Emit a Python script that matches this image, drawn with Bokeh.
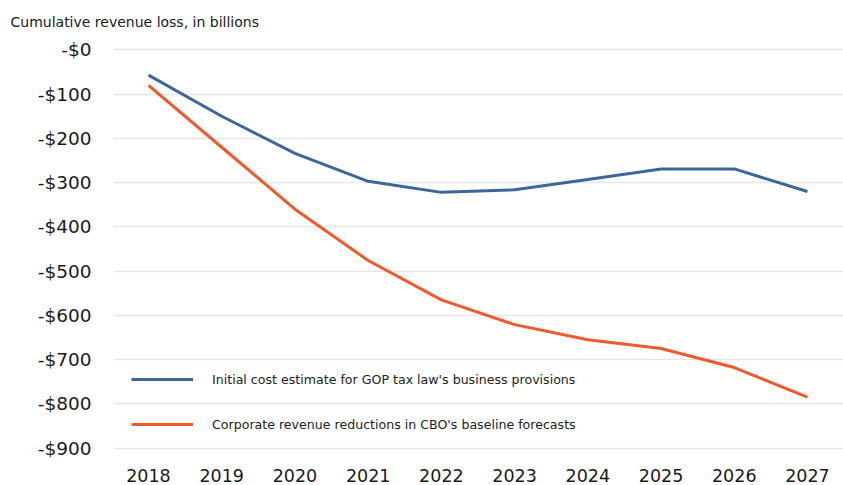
from bokeh.plotting import figure
from bokeh.models import Range1d, FixedTicker, CustomJSTickFormatter, Legend, LegendItem
from bokeh.embed import file_html
from bokeh.resources import INLINE

years = [2018, 2019, 2020, 2021, 2022, 2023, 2024, 2025, 2026, 2027]
initial_estimate = [-57, -150, -234, -297, -322, -316, -293, -269, -269, -320]
cbo_baseline = [-80, -220, -360, -476, -565, -621, -655, -675, -718, -785]
y_ticks = [0, -100, -200, -300, -400, -500, -600, -700, -800, -900]
series_names = ["Initial cost estimate for GOP tax law's business provisions",
                "Corporate revenue reductions in CBO's baseline forecasts"]
title_text = "Cumulative revenue loss, in billions"

BLUE = "#3b679b"
ORANGE = "#ee5a2b"
TEXT = "#1a1a1a"
FONT = "DejaVu Sans"

p = figure(width=843, height=485, output_backend="svg", toolbar_location=None,
           x_range=Range1d(2017.522, 2027.492), y_range=Range1d(-910, 10),
           min_border_left=113, min_border_right=0, min_border_top=44, min_border_bottom=33)

p.title.text = title_text
p.title.align = "left"
p.title.vertical_align = "top"
p.title.offset = -103
p.title.text_font = FONT
p.title.text_font_size = "14px"
p.title.text_font_style = "normal"
p.title.text_color = TEXT
p.title.standoff = 27

p.outline_line_color = None
p.background_fill_color = "white"
p.border_fill_color = "white"

r1 = p.line(years, initial_estimate, line_color=BLUE, line_width=3)
r2 = p.line(years, cbo_baseline, line_color=ORANGE, line_width=3)

# x axis
p.xaxis.ticker = FixedTicker(ticks=years)
p.xaxis.formatter = CustomJSTickFormatter(code="return tick.toFixed(0);")
p.xaxis.axis_line_color = None
p.xaxis.major_tick_line_color = None
p.xaxis.minor_tick_line_color = None
p.xaxis.major_label_standoff = 10
p.xaxis.major_label_text_font = FONT
p.xaxis.major_label_text_font_size = "17.5px"
p.xaxis.major_label_text_color = TEXT
p.xgrid.grid_line_color = None

# y axis
p.yaxis.ticker = FixedTicker(ticks=y_ticks)
p.yaxis.formatter = CustomJSTickFormatter(code='return "-$" + Math.abs(tick).toFixed(0);')
p.yaxis.axis_line_color = None
p.yaxis.major_tick_line_color = None
p.yaxis.minor_tick_line_color = None
p.yaxis.major_label_standoff = 16
p.yaxis.major_label_text_font = FONT
p.yaxis.major_label_text_font_size = "18.5px"
p.yaxis.major_label_text_color = TEXT
p.ygrid.grid_line_color = "#e6e6e6"
p.ygrid.grid_line_width = 1.5

legend = Legend(items=[LegendItem(label=series_names[0], renderers=[r1]),
                       LegendItem(label=series_names[1], renderers=[r2])],
                location=(18, 18))
legend.padding = 0
legend.margin = 0
legend.spacing = 25
legend.glyph_width = 62
legend.glyph_height = 20
legend.label_height = 20
legend.label_standoff = 19
legend.label_text_font = FONT
legend.label_text_font_size = "12.6px"
legend.label_text_color = "#222222"
legend.border_line_color = None
legend.background_fill_alpha = 0
p.add_layout(legend, "center")

open("out.html", "w").write(file_html(p, INLINE))
